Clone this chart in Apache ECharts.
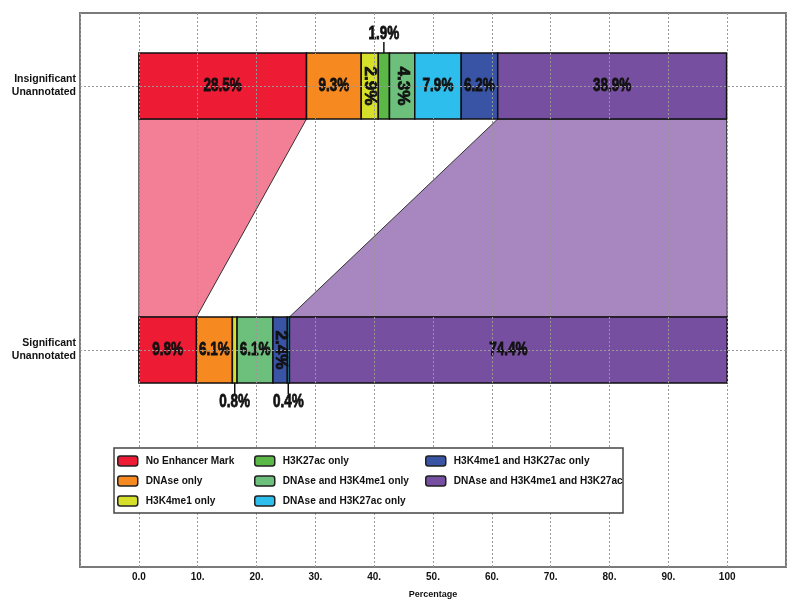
<!DOCTYPE html>
<html>
<head>
<meta charset="utf-8">
<script src="https://cdn.jsdelivr.net/npm/echarts@6/dist/echarts.min.js"></script>
<style>html,body{margin:0;padding:0;background:#fff}#chart{width:800px;height:613px}</style>
</head>
<body>
<div id="chart"></div>
<script>
const categories = ['No Enhancer Mark', 'DNAse only', 'H3K4me1 only', 'H3K27ac only',
  'DNAse and H3K4me1 only', 'DNAse and H3K27ac only', 'H3K4me1 and H3K27ac only',
  'DNAse and H3K4me1 and H3K27ac'];
const colors = ['#ED1B34', '#F6891F', '#D6E02A', '#5BB847', '#6CC07B', '#2DBEEE', '#3953A5', '#764FA0'];
const groups = ['Significant\nUnannotated', 'Insignificant\nUnannotated']; // y = 0, 1
const significantValues   = [9.8, 6.1, 0.8, 0, 6.1, 0.4, 2.4, 74.4];
const insignificantValues = [28.5, 9.3, 2.9, 1.9, 4.3, 7.9, 6.2, 38.9];
const significantOrder   = [0, 1, 2, 3, 4, 6, 5, 7];
const insignificantOrder = [0, 1, 2, 3, 4, 5, 6, 7];
const linkCategories = [0, 7];
const linkColors = ['#F27F96', '#A886BF'];
const xTickLabels = ['0.0', '10.', '20.', '30.', '40.', '50.', '60.', '70.', '80.', '90.', '100'];

const FONT = "Liberation Sans, Arial, sans-serif";
const HALF = 0.125;
const NARROW = 0.75;

const barValues = [significantValues, insignificantValues];
const barOrders = [significantOrder, insignificantOrder];
const starts = barValues.map((vals, b) => {
  const st = new Array(categories.length).fill(0);
  let acc = 0;
  barOrders[b].forEach(c => { st[c] = acc; acc += vals[c]; });
  return st;
});

function segRender(params, api) {
  const y = api.value(0), s = api.value(1), v = api.value(2);
  if (!v) return null;
  const p1 = api.coord([s, y + HALF]);
  const p2 = api.coord([s + v, y - HALF]);
  const cx = (p1[0] + p2[0]) / 2, cy = (p1[1] + p2[1]) / 2;
  const children = [{
    type: 'rect',
    shape: { x: p1[0], y: p1[1], width: p2[0] - p1[0], height: p2[1] - p1[1] },
    style: { fill: api.visual('color'), stroke: '#111', lineWidth: 1.5 }
  }];
  const ts = {
    text: v.toFixed(1) + '%', fill: '#111', stroke: '#111', lineWidth: 0.8,
    font: 'bold 18px ' + FONT, align: 'center', verticalAlign: 'middle'
  };
  if (v < 2) {
    const up = y > 0.5;
    const edge = up ? p1[1] : p2[1];
    const dir = up ? -1 : 1;
    children.push({ type: 'line', shape: { x1: cx, y1: edge, x2: cx, y2: edge + dir * 11 }, style: { stroke: '#111', lineWidth: 1.5 } });
    children.push({ type: 'text', x: cx, y: edge + dir * 19, scaleX: NARROW, style: ts });
  } else if (v < 5) {
    children.push({ type: 'text', x: cx, y: cy, rotation: -Math.PI / 2, scaleX: 0.95, scaleY: 0.9, style: ts });
  } else {
    children.push({ type: 'text', x: cx, y: cy, scaleX: NARROW, style: ts });
  }
  return { type: 'group', children };
}

function linkRender(params, api) {
  const a0 = api.value(0), a1 = api.value(1), b0 = api.value(2), b1 = api.value(3);
  const t0 = api.coord([a0, 1 - HALF]), t1 = api.coord([a1, 1 - HALF]);
  const u1 = api.coord([b1, HALF]), u0 = api.coord([b0, HALF]);
  return {
    type: 'polygon',
    shape: { points: [t0, t1, u1, u0] },
    style: { fill: linkColors[params.dataIndex], stroke: '#333', lineWidth: 1 }
  };
}

const series = categories.map((name, c) => ({
  type: 'custom',
  name: name,
  z: 3,
  itemStyle: { color: colors[c], borderColor: '#111', borderWidth: 1.5 },
  renderItem: segRender,
  encode: { x: [1, 2], y: 0 },
  data: [[0, starts[0][c], significantValues[c]], [1, starts[1][c], insignificantValues[c]]],
  silent: true
}));
series.push({
  type: 'custom',
  z: 2,
  renderItem: linkRender,
  encode: { x: [0, 1, 2, 3] },
  data: linkCategories.map(c => [starts[1][c], starts[1][c] + insignificantValues[c],
                                  starts[0][c], starts[0][c] + significantValues[c]]),
  silent: true
});

const legendBase = {
  orient: 'vertical', top: 455, itemWidth: 20, itemHeight: 10, itemGap: 8, padding: 0,
  icon: 'roundRect', selectedMode: false, z: 30,
  itemStyle: { borderColor: '#222', borderWidth: 1.5 },
  textStyle: { fontFamily: FONT, fontWeight: 'bold', fontSize: 10.1, color: '#111', lineHeight: 12, padding: [0, 0, 0, 3] }
};

const option = {
  animation: false,
  backgroundColor: '#fff',
  grid: { left: 80, right: 14, top: 13, bottom: 46, show: true, borderColor: '#7a7a7a', borderWidth: 2 },
  xAxis: {
    type: 'value', min: -10, max: 110, interval: 10, z: 10,
    name: 'Percentage', nameLocation: 'middle', nameGap: 23,
    nameTextStyle: { fontFamily: FONT, fontWeight: 'bold', fontSize: 9, color: '#111' },
    axisLine: { show: false }, axisTick: { show: false },
    axisLabel: {
      margin: 5, fontFamily: FONT, fontWeight: 'bold', fontSize: 10, color: '#111',
      formatter: v => { const i = Math.round(v / 10); return (i >= 0 && i < xTickLabels.length) ? xTickLabels[i] : ''; }
    },
    splitLine: { show: true, lineStyle: { color: '#999', type: [2, 2], width: 1 } }
  },
  yAxis: {
    type: 'value', min: -0.822, max: 1.2765, z: 10,
    axisLine: { show: false },
    axisTick: { show: false, customValues: [0, 1] },
    axisLabel: {
      customValues: [0, 1], margin: 4, align: 'right', lineHeight: 13,
      fontFamily: FONT, fontWeight: 'bold', fontSize: 10.5, color: '#111',
      formatter: v => groups[Math.round(v)] || ''
    },
    splitLine: { show: true, lineStyle: { color: '#999', type: [2, 2], width: 1 } }
  },
  legend: [
    Object.assign({}, legendBase, { left: 117, data: categories.slice(0, 3) }),
    Object.assign({}, legendBase, { left: 254, data: categories.slice(3, 6) }),
    Object.assign({}, legendBase, { left: 425, data: categories.slice(6, 8) })
  ],
  graphic: [{
    type: 'rect', z: 20, silent: true,
    shape: { x: 114, y: 448, width: 509, height: 65 },
    style: { fill: '#fff', stroke: '#444', lineWidth: 1.5 }
  }],
  series: series
};

const chart = echarts.init(document.getElementById('chart'), null, { renderer: 'canvas' });
chart.setOption(option);
</script>
</body>
</html>
